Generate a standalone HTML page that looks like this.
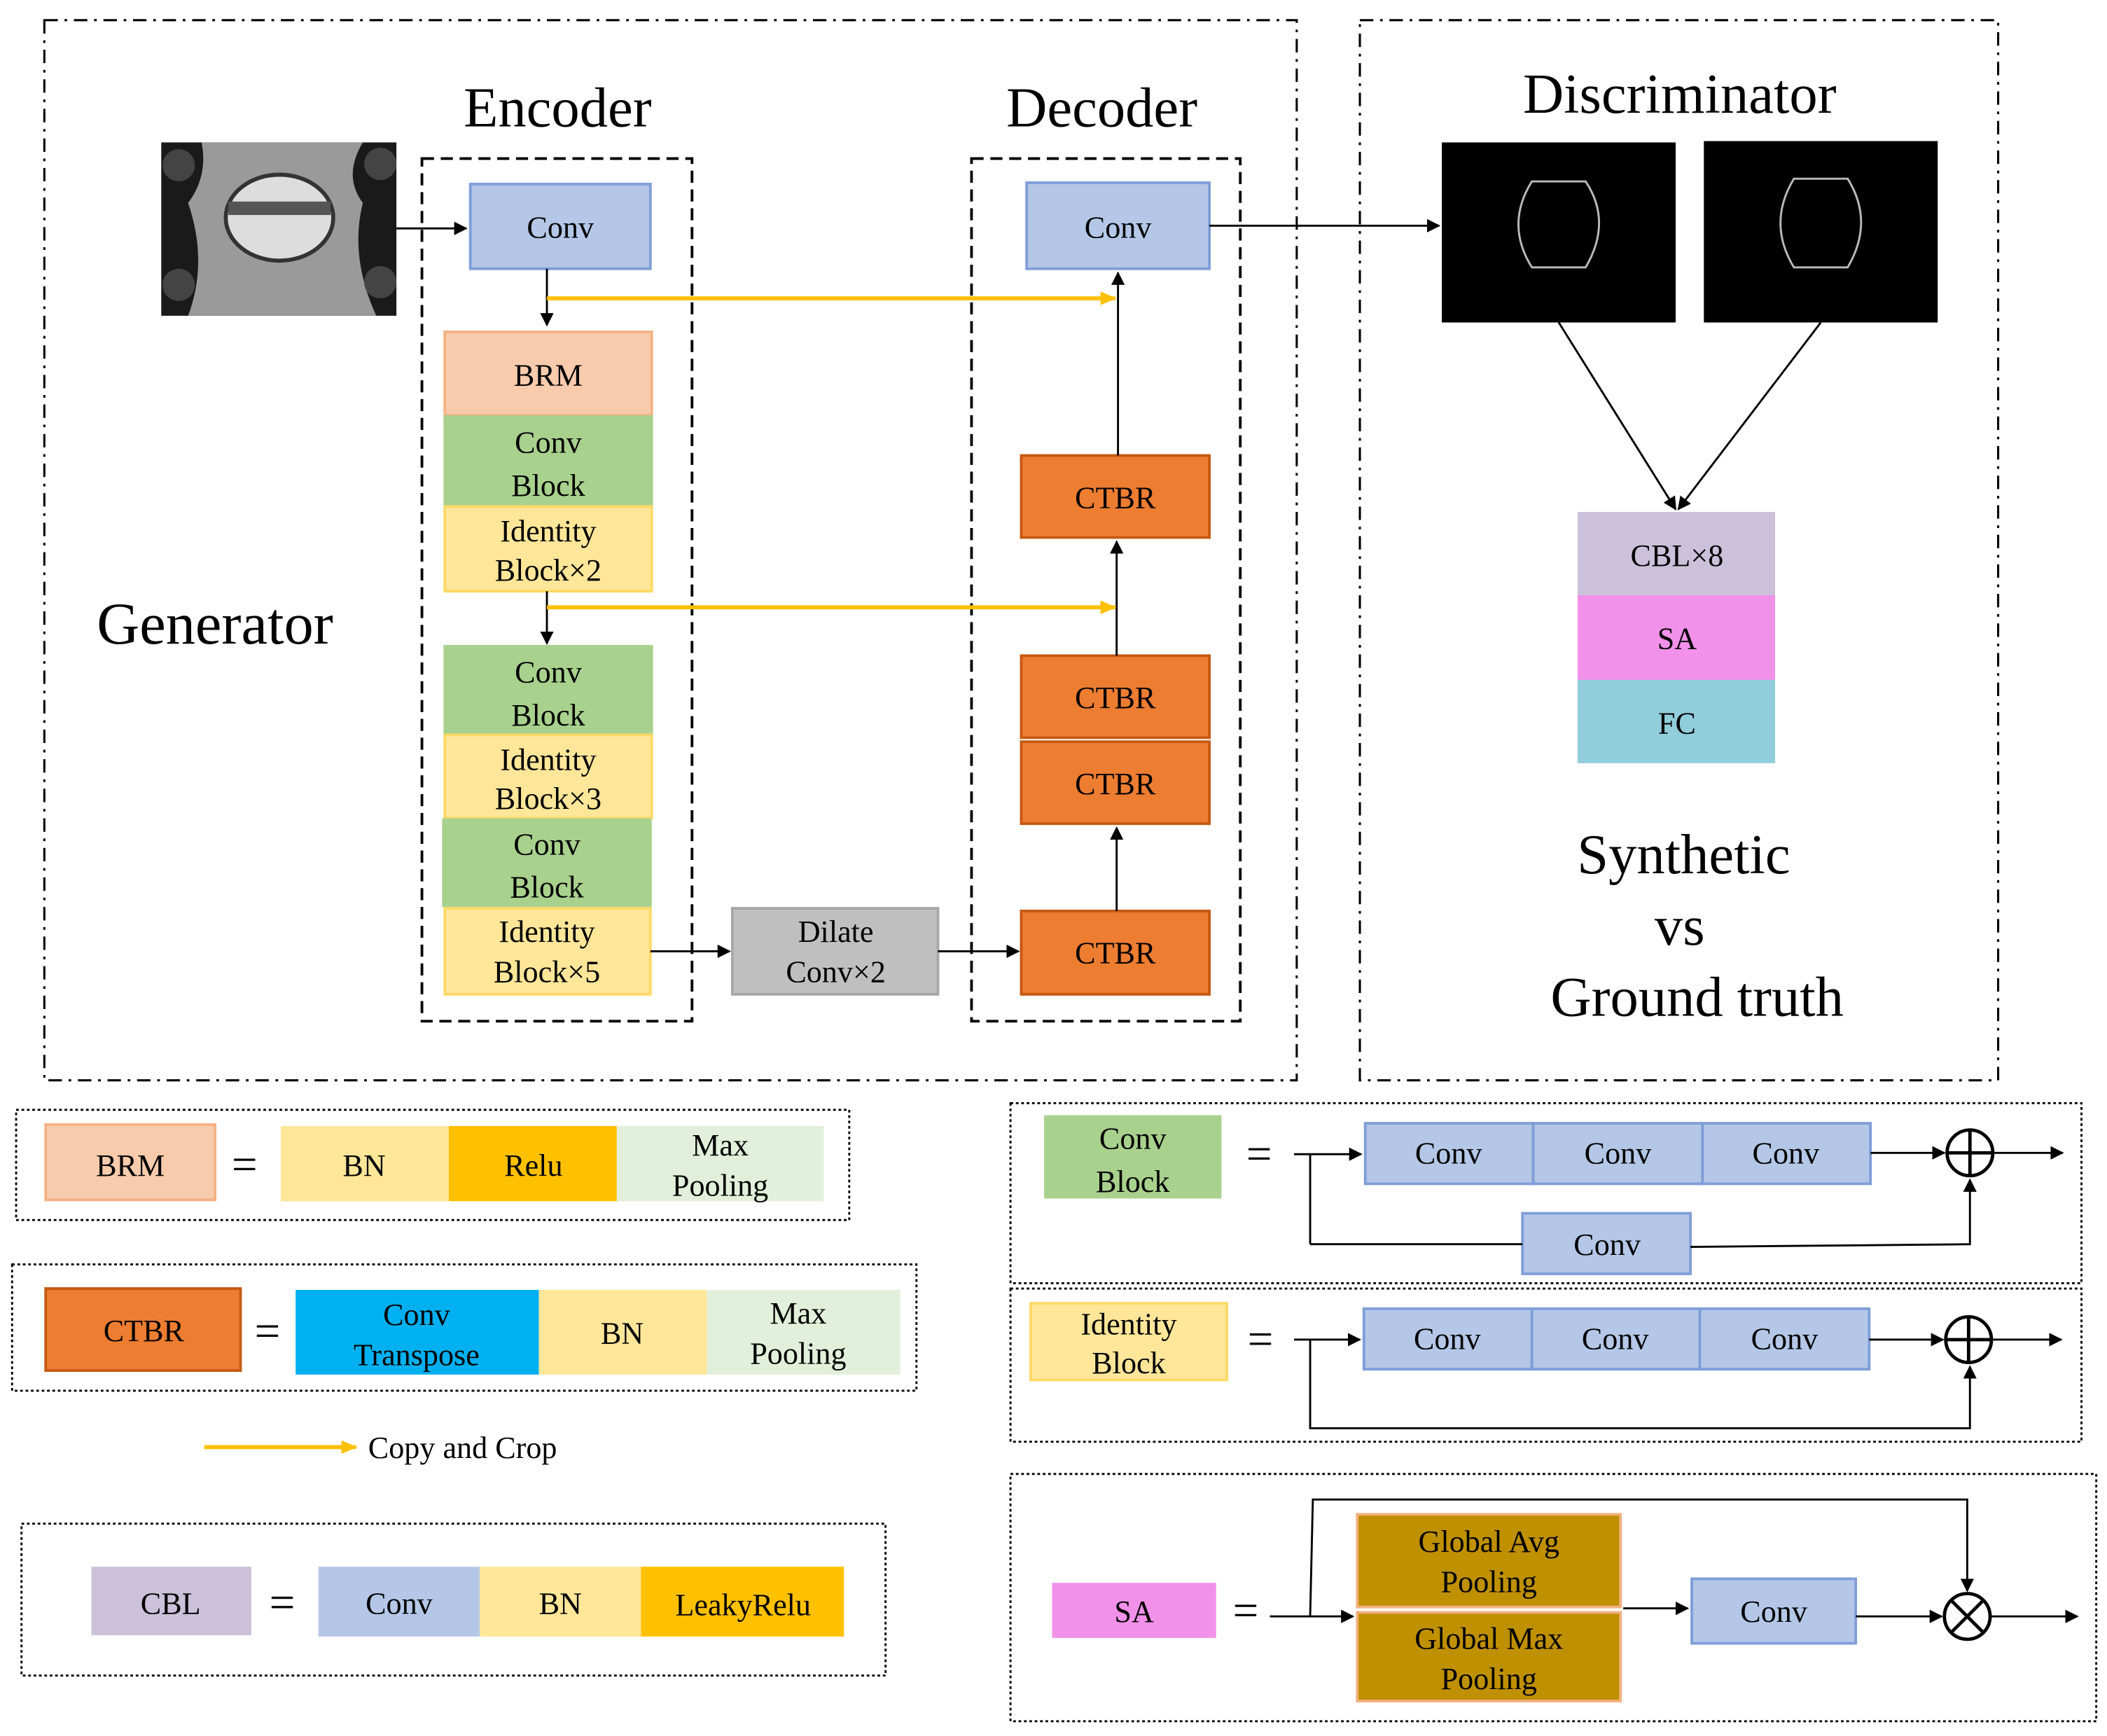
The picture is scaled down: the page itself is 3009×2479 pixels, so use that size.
<!DOCTYPE html>
<html><head><meta charset="utf-8"><style>
html,body{margin:0;padding:0;background:#fff}
svg{display:block}
text{font-family:"Liberation Serif",serif;fill:#000}
</style></head><body>
<svg width="3009" height="2479" viewBox="0 0 1568 1292" preserveAspectRatio="none" xmlns="http://www.w3.org/2000/svg">
<defs>
<marker id="a" markerWidth="10" markerHeight="10" refX="9" refY="5" orient="auto" markerUnits="userSpaceOnUse"><path d="M0,0 L10,5 L0,10 z" fill="#000"/></marker>
<marker id="y" markerWidth="12" markerHeight="10" refX="11" refY="5" orient="auto" markerUnits="userSpaceOnUse"><path d="M0,0 L12,5 L0,10 z" fill="#ffc000"/></marker>
</defs>
<g fill="none" stroke="#000" stroke-width="1.6">
<rect x="33" y="15" width="932" height="789" stroke-dasharray="10,5,2,5"/>
<rect x="1012" y="15" width="475" height="789" stroke-dasharray="10,5,2,5"/>
<rect x="314" y="118" width="201" height="642" stroke-dasharray="9,5" stroke-width="2"/>
<rect x="723" y="118" width="200" height="642" stroke-dasharray="9,5" stroke-width="2"/>
</g>
<text x="415" y="94" font-size="42" text-anchor="middle">Encoder</text>
<text x="820" y="94" font-size="42" text-anchor="middle">Decoder</text>
<text x="1250" y="84" font-size="42" text-anchor="middle">Discriminator</text>
<text x="160" y="479" font-size="44" text-anchor="middle">Generator</text>
<!-- input photo -->
<rect x="120" y="106" width="175" height="129" fill="#1a1a1a"/>
<path d="M150,106 h120 q-15,25 0,45 q-10,40 10,84 h-140 q15,-40 0,-84 q15,-20 10,-45z" fill="#9a9a9a"/>
<ellipse cx="208" cy="162" rx="40" ry="32" fill="#ddd" stroke="#333" stroke-width="3"/>
<rect x="170" y="150" width="76" height="10" fill="#555"/>
<circle cx="133" cy="123" r="12" fill="#444"/><circle cx="283" cy="122" r="12" fill="#444"/>
<circle cx="133" cy="212" r="12" fill="#444"/><circle cx="283" cy="210" r="12" fill="#444"/>
<!-- encoder -->
<g stroke-width="2">
<rect x="350" y="137" width="134" height="63" fill="#b4c7e7" stroke="#7f9ed8"/>
<rect x="331" y="247" width="154" height="62" fill="#f8cbad" stroke="#f4b183"/>
<rect x="331" y="310" width="154" height="65" fill="#a9d18e" stroke="#a9d18e"/>
<rect x="331" y="377" width="154" height="63" fill="#ffe699" stroke="#ffd966"/>
<rect x="331" y="481" width="154" height="65" fill="#a9d18e" stroke="#a9d18e"/>
<rect x="331" y="547" width="154" height="62" fill="#ffe699" stroke="#ffd966"/>
<rect x="330" y="610" width="154" height="64" fill="#a9d18e" stroke="#a9d18e"/>
<rect x="331" y="676" width="153" height="64" fill="#ffe699" stroke="#ffd966"/>
<rect x="545" y="676" width="153" height="64" fill="#bfbfbf" stroke="#a6a6a6"/>
<rect x="764" y="136" width="136" height="64" fill="#b4c7e7" stroke="#7f9ed8"/>
<rect x="760" y="339" width="140" height="61" fill="#ed7d31" stroke="#c55a11"/>
<rect x="760" y="488" width="140" height="61" fill="#ed7d31" stroke="#c55a11"/>
<rect x="760" y="552" width="140" height="61" fill="#ed7d31" stroke="#c55a11"/>
<rect x="760" y="678" width="140" height="62" fill="#ed7d31" stroke="#c55a11"/>
</g>
<g font-size="23" text-anchor="middle">
<text x="417" y="177">Conv</text>
<text x="408" y="287">BRM</text>
<text x="408" y="337">Conv</text><text x="408" y="369">Block</text>
<text x="408" y="403">Identity</text><text x="408" y="432">Block×2</text>
<text x="408" y="508">Conv</text><text x="408" y="540">Block</text>
<text x="408" y="573">Identity</text><text x="408" y="602">Block×3</text>
<text x="407" y="636">Conv</text><text x="407" y="668">Block</text>
<text x="407" y="701">Identity</text><text x="407" y="731">Block×5</text>
<text x="622" y="701">Dilate</text><text x="622" y="731">Conv×2</text>
<text x="832" y="177">Conv</text>
<text x="830" y="378">CTBR</text><text x="830" y="527">CTBR</text>
<text x="830" y="591">CTBR</text><text x="830" y="717">CTBR</text>
</g>
<g stroke="#000" stroke-width="1.5" fill="none" marker-end="url(#a)">
<line x1="295" y1="170" x2="347" y2="170"/>
<line x1="407" y1="200" x2="407" y2="242"/>
<line x1="407" y1="440" x2="407" y2="479"/>
<line x1="484" y1="708" x2="543" y2="708"/>
<line x1="698" y1="708" x2="758" y2="708"/>
<line x1="831" y1="678" x2="831" y2="616"/>
<line x1="831" y1="488" x2="831" y2="403"/>
<line x1="832" y1="339" x2="832" y2="203"/>
<line x1="900" y1="168" x2="1071" y2="168"/>
<line x1="1160" y1="240" x2="1247" y2="379"/>
<line x1="1355" y1="240" x2="1249" y2="379"/>
</g>
<g stroke="#ffc000" stroke-width="3" marker-end="url(#y)">
<line x1="407" y1="222" x2="830" y2="222"/>
<line x1="407" y1="452" x2="830" y2="452"/>
<line x1="152" y1="1077" x2="265" y2="1077"/>
</g>
<!-- discriminator -->
<rect x="1073" y="106" width="174" height="134" fill="#000"/>
<rect x="1268" y="105" width="174" height="135" fill="#000"/>
<path d="M1140,135 h40 q20,30 0,64 h-40 q-20,-32 0,-64z" fill="none" stroke="#bbb" stroke-width="1.5"/>
<path d="M1335,133 h40 q20,32 0,66 h-40 q-20,-33 0,-66z" fill="none" stroke="#bbb" stroke-width="1.5"/>
<rect x="1174" y="381" width="147" height="62" fill="#ccc1da"/>
<rect x="1174" y="443" width="147" height="63" fill="#f191e9"/>
<rect x="1174" y="506" width="147" height="62" fill="#92cddc"/>
<g font-size="23" text-anchor="middle">
<text x="1248" y="421">CBL×8</text><text x="1248" y="483">SA</text><text x="1248" y="546">FC</text>
</g>
<g font-size="42" text-anchor="middle">
<text x="1253" y="650">Synthetic</text><text x="1250" y="703">vs</text><text x="1263" y="756">Ground truth</text>
</g>
<!-- legend left -->
<g fill="none" stroke="#000" stroke-width="1.5" stroke-dasharray="2,2">
<rect x="12" y="826" width="620" height="82"/>
<rect x="9" y="941" width="673" height="94"/>
<rect x="16" y="1134" width="643" height="113"/>
<rect x="752" y="821" width="797" height="134"/>
<rect x="752" y="959" width="797" height="114"/>
<rect x="752" y="1097" width="808" height="184"/>
</g>
<g stroke-width="2">
<rect x="34" y="837" width="126" height="56" fill="#f8cbad" stroke="#f4b183"/>
<rect x="209" y="838" width="125" height="56" fill="#ffe699"/>
<rect x="334" y="838" width="125" height="56" fill="#ffc000"/>
<rect x="459" y="838" width="154" height="56" fill="#e2efda"/>
<rect x="34" y="959" width="145" height="61" fill="#ed7d31" stroke="#c55a11"/>
<rect x="220" y="960" width="181" height="63" fill="#00b0f0"/>
<rect x="401" y="960" width="125" height="63" fill="#ffe699"/>
<rect x="526" y="960" width="144" height="63" fill="#e2efda"/>
<rect x="68" y="1166" width="119" height="51" fill="#ccc1da"/>
<rect x="237" y="1166" width="120" height="52" fill="#b4c7e7"/>
<rect x="357" y="1166" width="120" height="52" fill="#ffe699"/>
<rect x="477" y="1166" width="151" height="52" fill="#ffc000"/>
</g>
<g font-size="23" text-anchor="middle">
<text x="97" y="875">BRM</text><text x="182" y="878" font-size="34">=</text>
<text x="271" y="875">BN</text><text x="397" y="875">Relu</text>
<text x="536" y="860">Max</text><text x="536" y="890">Pooling</text>
<text x="107" y="998">CTBR</text><text x="199" y="1002" font-size="34">=</text>
<text x="310" y="986">Conv</text><text x="310" y="1016">Transpose</text>
<text x="463" y="1000">BN</text>
<text x="594" y="985">Max</text><text x="594" y="1015">Pooling</text>
<text x="127" y="1201">CBL</text><text x="210" y="1204" font-size="34">=</text>
<text x="297" y="1201">Conv</text><text x="417" y="1201">BN</text><text x="553" y="1202">LeakyRelu</text>
</g>
<text x="274" y="1085" font-size="23">Copy and Crop</text>
<!-- legend right -->
<g stroke-width="2">
<rect x="777" y="830" width="132" height="62" fill="#a9d18e"/>
<rect x="1016" y="836" width="125" height="45" fill="#b4c7e7" stroke="#7f9ed8"/>
<rect x="1141" y="836" width="126" height="45" fill="#b4c7e7" stroke="#7f9ed8"/>
<rect x="1267" y="836" width="125" height="45" fill="#b4c7e7" stroke="#7f9ed8"/>
<rect x="1133" y="903" width="125" height="45" fill="#b4c7e7" stroke="#7f9ed8"/>
<rect x="767" y="970" width="146" height="57" fill="#ffe699" stroke="#ffd966"/>
<rect x="1015" y="974" width="125" height="45" fill="#b4c7e7" stroke="#7f9ed8"/>
<rect x="1140" y="974" width="125" height="45" fill="#b4c7e7" stroke="#7f9ed8"/>
<rect x="1265" y="974" width="126" height="45" fill="#b4c7e7" stroke="#7f9ed8"/>
<rect x="783" y="1178" width="122" height="41" fill="#f191e9"/>
<rect x="1010" y="1127" width="196" height="69" fill="#bf9000" stroke="#f4b183"/>
<rect x="1010" y="1200" width="196" height="66" fill="#bf9000" stroke="#f4b183"/>
<rect x="1259" y="1175" width="122" height="48" fill="#b4c7e7" stroke="#7f9ed8"/>
</g>
<g font-size="23" text-anchor="middle">
<text x="843" y="855">Conv</text><text x="843" y="887">Block</text>
<text x="937" y="870" font-size="34">=</text>
<text x="1078" y="866">Conv</text><text x="1204" y="866">Conv</text><text x="1329" y="866">Conv</text>
<text x="1196" y="934">Conv</text>
<text x="840" y="993">Identity</text><text x="840" y="1022">Block</text>
<text x="938" y="1008" font-size="34">=</text>
<text x="1077" y="1004">Conv</text><text x="1202" y="1004">Conv</text><text x="1328" y="1004">Conv</text>
<text x="844" y="1207">SA</text><text x="927" y="1210" font-size="34">=</text>
<text x="1108" y="1155">Global Avg</text><text x="1108" y="1185">Pooling</text>
<text x="1108" y="1227">Global Max</text><text x="1108" y="1257">Pooling</text>
<text x="1320" y="1207">Conv</text>
</g>
<g stroke="#000" stroke-width="1.5" fill="none">
<polyline points="975,926 975,859"/>
<polyline points="975,926 1133,926"/>
<polyline points="1258,928 1466,926 1466,878" marker-end="url(#a)"/>
<line x1="963" y1="859" x2="1013" y2="859" marker-end="url(#a)"/>
<line x1="1392" y1="858" x2="1447" y2="858" marker-end="url(#a)"/>
<line x1="1484" y1="858" x2="1535" y2="858" marker-end="url(#a)"/>
<circle cx="1466" cy="858" r="17" stroke-width="2.5"/>
<line x1="1449" y1="858" x2="1483" y2="858" stroke-width="2.5"/><line x1="1466" y1="841" x2="1466" y2="875" stroke-width="2.5"/>
<line x1="963" y1="997" x2="1012" y2="997" marker-end="url(#a)"/>
<polyline points="975,997 975,1063 1466,1063 1466,1017" marker-end="url(#a)"/>
<line x1="1391" y1="997" x2="1446" y2="997" marker-end="url(#a)"/>
<line x1="1483" y1="997" x2="1534" y2="997" marker-end="url(#a)"/>
<circle cx="1465" cy="997" r="17" stroke-width="2.5"/>
<line x1="1448" y1="997" x2="1482" y2="997" stroke-width="2.5"/><line x1="1465" y1="980" x2="1465" y2="1014" stroke-width="2.5"/>
<line x1="945" y1="1203" x2="1007" y2="1203" marker-end="url(#a)"/>
<polyline points="975,1203 977,1116 1464,1116 1464,1184" marker-end="url(#a)"/>
<line x1="1208" y1="1197" x2="1256" y2="1197" marker-end="url(#a)"/>
<line x1="1381" y1="1203" x2="1445" y2="1203" marker-end="url(#a)"/>
<line x1="1482" y1="1203" x2="1546" y2="1203" marker-end="url(#a)"/>
<circle cx="1464" cy="1203" r="17" stroke-width="2.5"/>
<line x1="1452" y1="1191" x2="1476" y2="1215" stroke-width="2.5"/><line x1="1476" y1="1191" x2="1452" y2="1215" stroke-width="2.5"/>
</g>
</svg>
</body></html>
